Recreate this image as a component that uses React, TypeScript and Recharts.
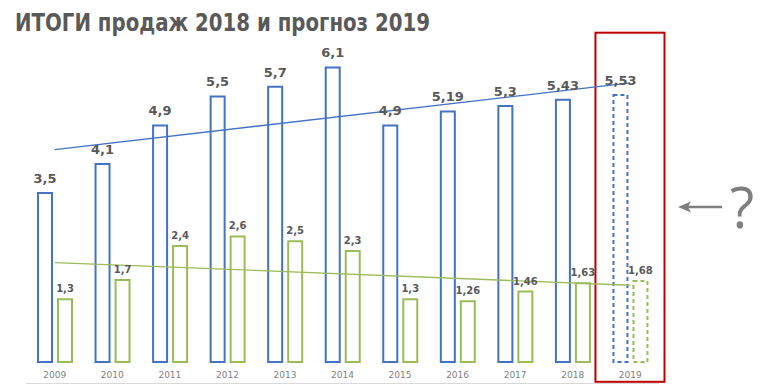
import React from 'react';
import {
  ComposedChart,
  Bar,
  Line,
  XAxis,
  YAxis,
  Cell,
  LabelList,
  ReferenceArea,
} from 'recharts';

const years = ['2009', '2010', '2011', '2012', '2013', '2014', '2015', '2016', '2017', '2018', '2019'];
const sales = [3.5, 4.1, 4.9, 5.5, 5.7, 6.1, 4.9, 5.19, 5.3, 5.43, 5.53];
const second = [1.3, 1.7, 2.4, 2.6, 2.5, 2.3, 1.3, 1.26, 1.46, 1.63, 1.68];
const salesTrend: (number | null)[] = [4.4, null, null, null, null, null, null, null, null, null, 5.78];
const secondTrend: (number | null)[] = [2.06, null, null, null, null, null, null, null, null, null, 1.59];
const forecastYear = '2019';
const title = 'ИТОГИ продаж 2018 и прогноз 2019';

const data = years.map((y, i) => ({
  year: y,
  sales: sales[i],
  second: second[i],
  salesTrend: salesTrend[i],
  secondTrend: secondTrend[i],
}));

const BLUE = '#4472C4';
const GREEN = '#9BBB59';
const GRAY = '#595959';

const fmt = (v: any) => String(v).replace('.', ',');

const RedBox = (props: any) => {
  const { x, y, width, height } = props;
  return (
    <rect
      x={x - 6}
      y={y}
      width={width + 11.5}
      height={height}
      fill="none"
      stroke="#C00000"
      strokeWidth={2}
    />
  );
};

export default function App() {
  return (
    <div style={{ position: 'absolute', left: 0, top: 0, width: 772, height: 386, background: '#fff' }}>
      <ComposedChart
        width={772}
        height={386}
        data={data}
        margin={{ top: 24, right: 113, bottom: 0, left: 26 }}
        barSize={14}
        barGap={6}
      >
        <YAxis hide domain={[0, 7]} type="number" />
        <XAxis
          dataKey="year"
          axisLine={false}
          tickLine={false}
          height={21.5}
          tickMargin={4}
          tick={{ fontSize: 9, fill: '#7F7F7F', fontFamily: 'DejaVu Sans' }}
          interval={0}
        />
        <XAxis
          xAxisId="base"
          dataKey="year"
          height={2.5}
          tick={false}
          tickLine={false}
          axisLine={{ stroke: '#D9D9D9', strokeWidth: 1 }}
        />
        <Bar dataKey="sales" fill="#fff" stroke={BLUE} strokeWidth={2} isAnimationActive={false}>
          {data.map((d) => (
            <Cell key={d.year} strokeDasharray={d.year === forecastYear ? '4 3' : undefined} />
          ))}
          <LabelList
            dataKey="sales"
            position="top"
            offset={10}
            formatter={fmt}
            style={{ fill: GRAY, fontSize: 13, fontWeight: 'bold', fontFamily: 'DejaVu Sans' }}
          />
        </Bar>
        <Bar dataKey="second" fill="#fff" stroke={GREEN} strokeWidth={2} isAnimationActive={false}>
          {data.map((d) => (
            <Cell key={d.year} strokeDasharray={d.year === forecastYear ? '4 3' : undefined} />
          ))}
          <LabelList
            dataKey="second"
            position="top"
            offset={7}
            formatter={fmt}
            style={{ fill: GRAY, fontSize: 10, fontWeight: 'bold', fontFamily: 'DejaVu Sans' }}
          />
        </Bar>
        <Line
          dataKey="salesTrend"
          stroke={BLUE}
          strokeWidth={1.3}
          dot={false}
          activeDot={false}
          connectNulls
          isAnimationActive={false}
        />
        <Line
          dataKey="secondTrend"
          stroke={GREEN}
          strokeWidth={1.3}
          dot={false}
          activeDot={false}
          connectNulls
          isAnimationActive={false}
        />
        <ReferenceArea
          x1={forecastYear}
          x2={forecastYear}
          y1={-0.41}
          y2={6.82}
          ifOverflow="visible"
          shape={RedBox}
        />
      </ComposedChart>
      <svg
        width={772}
        height={386}
        style={{ position: 'absolute', left: 0, top: 0, pointerEvents: 'none' }}
      >
        <text
          x={15}
          y={31}
          fontFamily="DejaVu Sans"
          fontWeight="bold"
          fontSize={24}
          fill={GRAY}
          textLength={415}
          lengthAdjust="spacingAndGlyphs"
        >
          {title}
        </text>
        <line x1={688} y1={207} x2={722} y2={207} stroke="#7F7F7F" strokeWidth={2.5} />
        <path d="M678,207 L691,201.5 L688,207 L691,212.5 Z" fill="#7F7F7F" />
        <text x={742} y={228} fontFamily="Open Sans" fontSize={56} fill="#7F7F7F" textAnchor="middle">
          ?
        </text>
      </svg>
    </div>
  );
}
